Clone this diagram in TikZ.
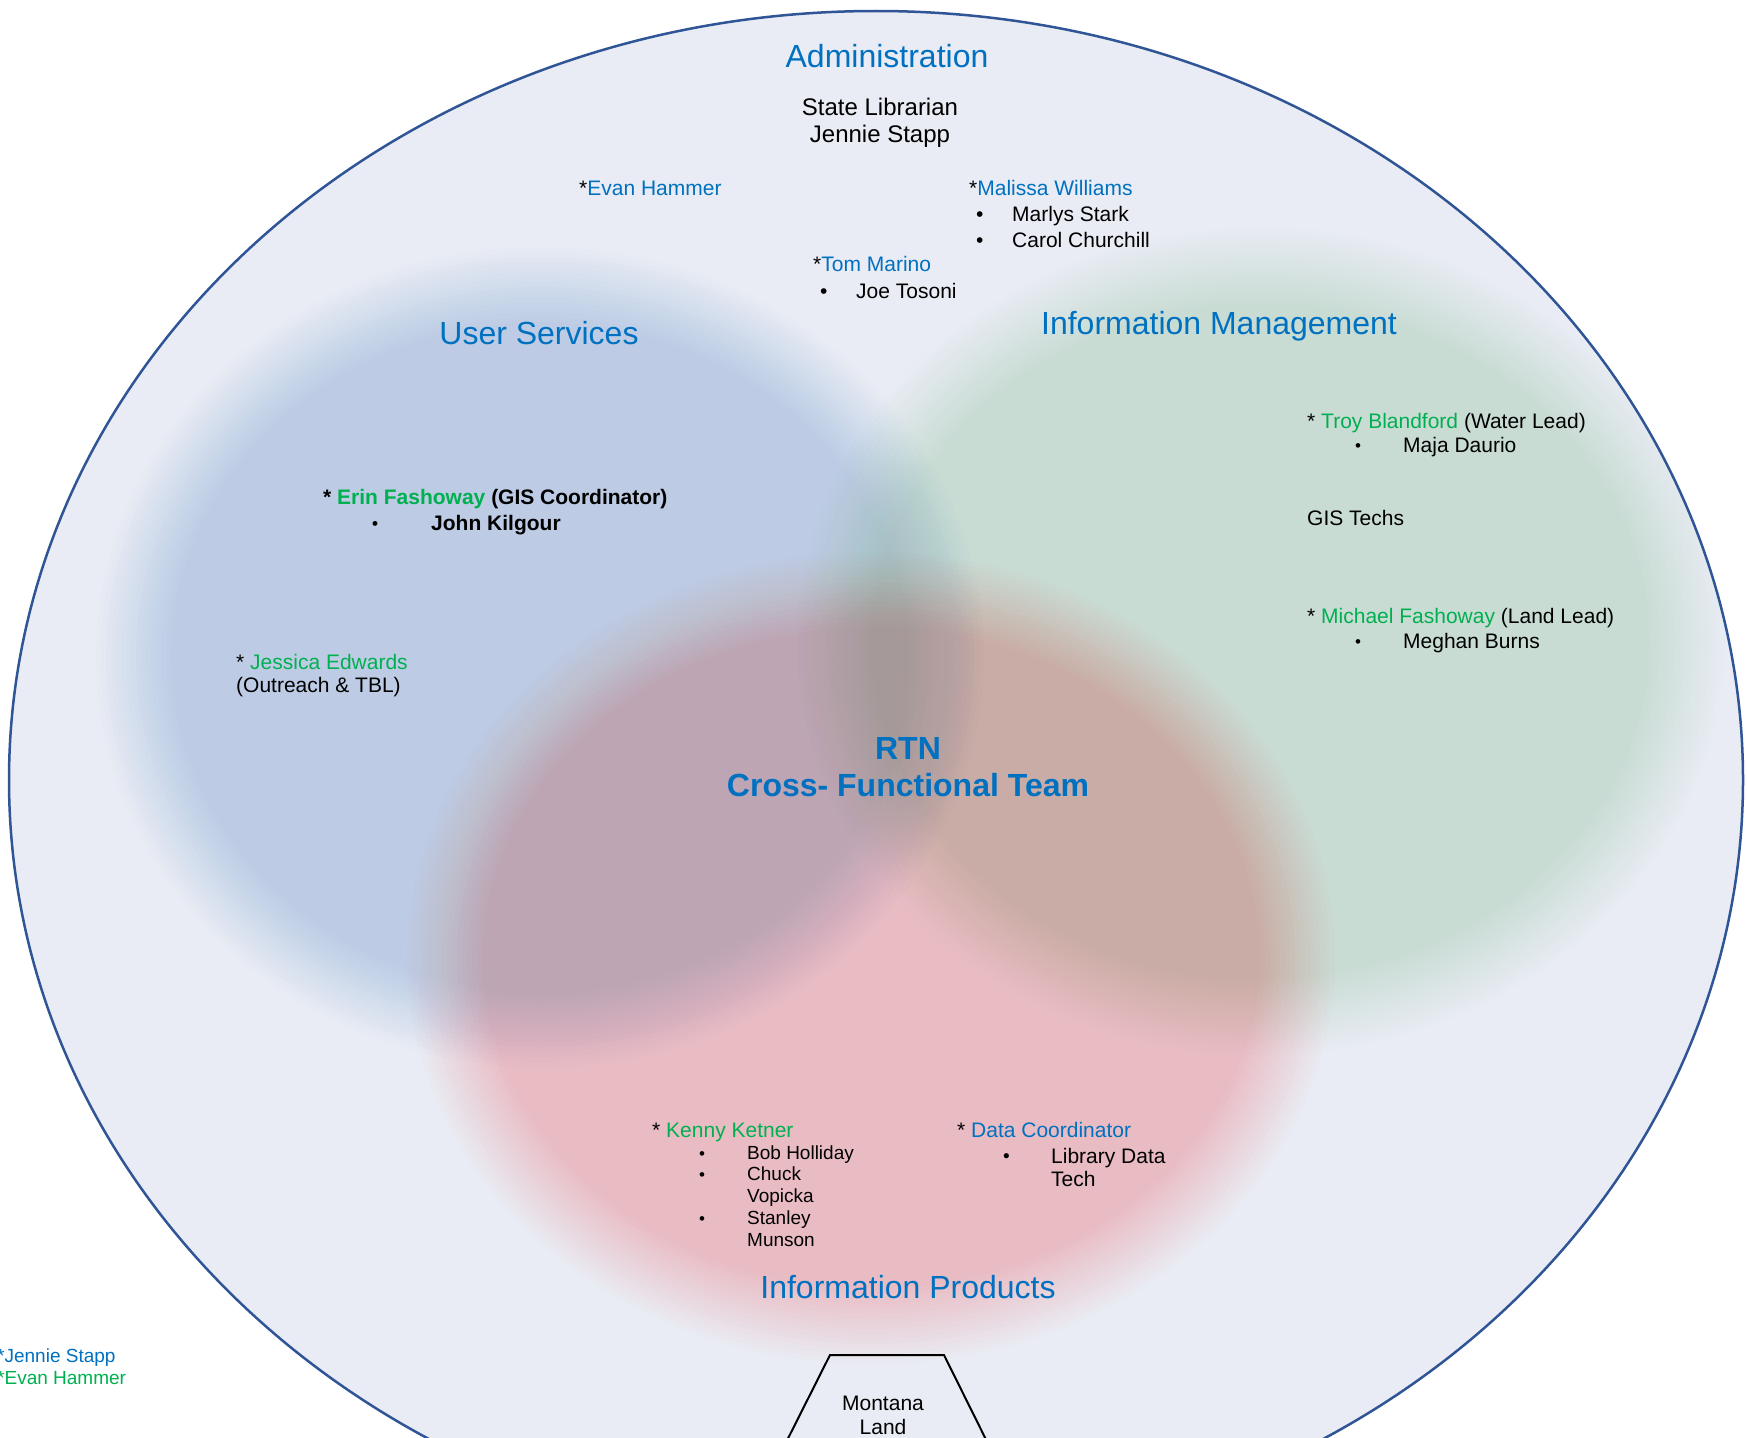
\documentclass[tikz,border=0pt]{standalone}
\usepackage{fontspec}
\setmainfont{Liberation Sans}
\usepackage{tikz}

\definecolor{rtnblue}{HTML}{0070C0}
\definecolor{rtngreen}{HTML}{00B050}
\definecolor{rim}{HTML}{2F5597}
\definecolor{bgfill}{RGB}{233,236,244}
\definecolor{usfill}{RGB}{215,236,254}
\definecolor{imfill}{RGB}{234,248,231}
\definecolor{ipfill}{RGB}{255,207,209}

\begin{document}
\begin{tikzpicture}[x=1pt, y=-1pt,
	title/.style={rtnblue, font=\fontsize{32}{38}\selectfont, inner sep=0pt, text height=23pt, text depth=0pt},
	txt/.style={anchor=west, font=\fontsize{21}{25}\selectfont, inner sep=0pt, text height=15pt, text depth=0pt},
	btxt/.style={txt, font=\fontsize{21}{25}\selectfont\bfseries},
	small/.style={anchor=west, font=\fontsize{19}{22}\selectfont, inner sep=0pt, text height=13.6pt, text depth=0pt},
	dot/.style={anchor=west, font=\fontsize{17}{20}\selectfont, inner sep=0pt, text height=12.2pt, text depth=0pt}]
	\useasboundingbox (0,0) rectangle (1747,1437);
	
	% outer ring
	\fill[bgfill] (876,780) ellipse [x radius=867pt, y radius=769pt];
	
	% soft circles
	\begin{scope}
		\clip (876,780) ellipse [x radius=867pt, y radius=769pt];
		\foreach \k in {0,...,15} {
			\fill[usfill, opacity=0.0625, blend mode=multiply] (540,657) ellipse [x radius={(444-5*\k)*1pt}, y radius={(410-5*\k)*1pt}];
			\fill[imfill, opacity=0.0625, blend mode=multiply] (1261,641) ellipse [x radius={(464-5*\k)*1pt}, y radius={(414-5*\k)*1pt}];
			\fill[ipfill, opacity=0.0625, blend mode=multiply] (871,958) ellipse [x radius={(464-5*\k)*1pt}, y radius={(406-5*\k)*1pt}];
		}
	\end{scope}
	\draw[rim, line width=2.5pt] (876,780) ellipse [x radius=867pt, y radius=769pt];
	
	% Administration
	\node[title] (adm) at (887,56) {Administration};
	\node[txt, anchor=center, font=\fontsize{24}{28}\selectfont, text height=17pt] (sl1) at (880,107) {State Librarian};
	\node[txt, anchor=center, font=\fontsize{24}{28}\selectfont, text height=17pt] (sl2) at (880,134) {Jennie Stapp};
	\node[txt] (eh) at (579,188) {*\textcolor{rtnblue}{Evan Hammer}};
	\node[txt] (mw) at (969,188) {*\textcolor{rtnblue}{Malissa Williams}};
	\node[txt] (mw0) at (976,214) {\textbullet};
	\node[txt] (mw1) at (1012,214) {Marlys Stark};
	\node[txt] (mw2) at (976,240) {\textbullet};
	\node[txt] (mw3) at (1012,240) {Carol Churchill};
	\node[txt] (tm) at (813,264) {*\textcolor{rtnblue}{Tom Marino}};
	\node[txt] (tm0) at (820,291) {\textbullet};
	\node[txt] (tm1) at (856,291) {Joe Tosoni};
	
	% User Services
	\node[title] (us) at (539,333) {User Services};
	\node[btxt] (ef) at (323,497) {* \textcolor{rtngreen}{Erin Fashoway} (GIS Coordinator)};
	\node[dot, font=\fontsize{17}{20}\selectfont\bfseries] (ef0) at (372,523) {\textbullet};
	\node[btxt] (ef1) at (431,523) {John Kilgour};
	\node[txt] (je) at (236,662) {* \textcolor{rtngreen}{Jessica Edwards}};
	\node[txt] (je1) at (236,685) {(Outreach \& TBL)};
	
	% Information Management
	\node[title] (im) at (1219,323) {Information Management};
	\node[txt] (tb) at (1307,421) {* \textcolor{rtngreen}{Troy Blandford} (Water Lead)};
	\node[dot] (tb0) at (1355,445) {\textbullet};
	\node[txt] (tb1) at (1403,445) {Maja Daurio};
	\node[txt] (gis) at (1307,518) {GIS Techs};
	\node[txt] (mf) at (1307,616) {* \textcolor{rtngreen}{Michael Fashoway} (Land Lead)};
	\node[dot] (mf0) at (1355,641) {\textbullet};
	\node[txt] (mf1) at (1403,641) {Meghan Burns};
	
	% Information Products
	\node[title] (ip) at (908,1287) {Information Products};
	\node[txt] (kk) at (652,1130) {* \textcolor{rtngreen}{Kenny Ketner}};
	\node[dot] (kk0) at (699,1153) {\textbullet};
	\node[small] (kk1) at (747,1153) {Bob Holliday};
	\node[dot] (kk2) at (699,1174) {\textbullet};
	\node[small] (kk3) at (747,1174) {Chuck};
	\node[small] (kk4) at (747,1196) {Vopicka};
	\node[dot] (kk5) at (699,1218) {\textbullet};
	\node[small] (kk6) at (747,1218) {Stanley};
	\node[small] (kk7) at (747,1240) {Munson};
	\node[txt] (dc) at (957,1130) {* \textcolor{rtnblue}{Data Coordinator}};
	\node[dot, font=\fontsize{19}{22}\selectfont, text height=13.6pt] (dc0) at (1003,1156) {\textbullet};
	\node[txt] (dc1) at (1051,1156) {Library Data};
	\node[txt] (dc2) at (1051,1179) {Tech};
	
	% team
	\node[title, font=\fontsize{32}{38}\selectfont\bfseries] (rtn) at (908,748) {RTN};
	\node[title, font=\fontsize{32}{38}\selectfont\bfseries] (cft) at (908,785) {Cross- Functional Team};
	
	% key
	\node[small, rtnblue] (key1) at (-3,1356) {*Jennie Stapp};
	\node[small, rtngreen] (key2) at (-3,1378) {*Evan Hammer};
	
	% Montana Land
	\draw[line width=2pt] (757,1500) -- (830,1355) -- (944,1355) -- (1016,1500);
	\node[txt, anchor=center] (ml1) at (883,1403) {Montana};
	\node[txt, anchor=center] (ml2) at (883,1427) {Land};
	
\end{tikzpicture}
\end{document}
